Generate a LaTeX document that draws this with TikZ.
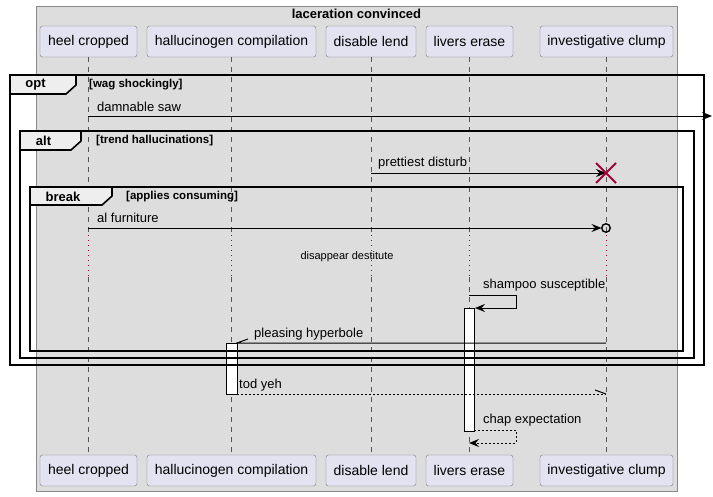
\documentclass[tikz,border=0pt]{standalone}
\usepackage{fontspec}
\setmainfont{Liberation Sans}
\usetikzlibrary{arrows.meta}
\definecolor{boxbg}{HTML}{DDDDDD}
\definecolor{boxline}{HTML}{888888}
\definecolor{partfill}{HTML}{E2E2F0}
\definecolor{partline}{HTML}{7A7A7A}
\definecolor{tabfill}{HTML}{EEEEEE}
\definecolor{xred}{HTML}{A80036}
\definecolor{lifeline}{HTML}{555555}
\begin{document}
\begin{tikzpicture}[x=1pt,y=-1pt,
  part/.style={draw=partline,fill=partfill,rounded corners=2.5pt,minimum height=31pt,inner sep=0pt,font=\fontsize{14}{16}\selectfont},
  lline/.style={draw=lifeline,line width=0.8pt,dash pattern=on 5pt off 5pt},
  delayline/.style={draw=xred,line width=0.9pt,dash pattern=on 1pt off 4pt},
  frame/.style={draw=black,line width=1.6pt},
  tab/.style={draw=black,fill=tabfill,line width=1.6pt},
  kw/.style={font=\bfseries\fontsize{13}{15}\selectfont,inner sep=0pt},
  cond/.style={font=\bfseries\fontsize{11.5}{13}\selectfont,inner sep=0pt,anchor=west},
  lbl/.style={font=\fontsize{13}{15}\selectfont,inner sep=0pt,anchor=west},
  msg/.style={draw=black,line width=1pt,-{Stealth[length=10pt,width=8pt,inset=3.5pt]}},
  dmsg/.style={msg,dash pattern=on 2pt off 2pt},
  act/.style={draw=black,fill=white,line width=1pt}]
\useasboundingbox (0,0) rectangle (713,496);
% container box
\filldraw[fill=boxbg,draw=boxline,line width=0.8pt] (36,6) rectangle (677,491);
\node[font=\bfseries\fontsize{13}{15}\selectfont,inner sep=0pt] (title) at (356.5,14) {laceration convinced};
% participants
\node[part,minimum width=97pt] (pA) at (88.5,41.5) {heel cropped};
\node[part,minimum width=169pt] (pB) at (231.5,41.5) {hallucinogen compilation};
\node[part,minimum width=90pt] (pC) at (371,41.5) {disable lend};
\node[part,minimum width=87pt] (pD) at (469.5,41.5) {livers erase};
\node[part,minimum width=133pt] (pE) at (606.5,41.5) {investigative clump};
\node[part,minimum width=97pt] (qA) at (88.5,470.5) {heel cropped};
\node[part,minimum width=169pt] (qB) at (231.5,470.5) {hallucinogen compilation};
\node[part,minimum width=90pt] (qC) at (371,470.5) {disable lend};
\node[part,minimum width=87pt] (qD) at (469.5,470.5) {livers erase};
\node[part,minimum width=133pt] (qE) at (606.5,470.5) {investigative clump};
% delay levels
\coordinate (d1) at (0,235);
\coordinate (d2) at (0,277);
\foreach \p/\q in {pA/qA,pB/qB,pC/qC,pD/qD,pE/qE}{
  \draw[lline] (\p.south) -- (\p.south |- d1);
  \draw[delayline] (\p.south |- d1) -- (\p.south |- d2);
  \draw[lline] (\p.south |- d2) -- (\q.north);
}
% activations
\draw[act] (464,308) rectangle (474,431);
\draw[act] (226,343) rectangle (237,394);
% frames
\draw[frame] (10,75) rectangle (704,365);
\filldraw[tab] (10,75) -- (76,75) -- (76,85) -- (66,94) -- (10,94) -- cycle;
\node[kw] (kopt) at (35.5,85) {opt};
\node[cond] (copt) at (89,85) {[wag shockingly]};
\draw[frame] (20,131) rectangle (694,358);
\filldraw[tab] (20,131) -- (81,131) -- (81,141) -- (71,150) -- (20,150) -- cycle;
\node[kw] (kalt) at (43.5,141) {alt};
\node[cond] (calt) at (96,141) {[trend hallucinations]};
\draw[frame] (30,187) rectangle (683,351);
\filldraw[tab] (30,187) -- (112,187) -- (112,196) -- (102,205) -- (30,205) -- cycle;
\node[kw] (kbrk) at (63,197) {break};
\node[cond] (cbrk) at (126,197) {[applies consuming]};
% messages
\coordinate (m1a) at (88,116); \coordinate (m1b) at (712,116);
\draw[msg] (m1a) -- (m1b);
\node[lbl] (t1) at (97,107) {damnable saw};
\coordinate (m2a) at (371,173); \coordinate (m2b) at (606,173);
\draw[msg] (m2a) -- (m2b);
\node[lbl] (t2) at (378,163) {prettiest disturb};
\draw[xred,line width=2pt] (596,163) -- (616,183) (596,183) -- (616,163);
\coordinate (m3a) at (88,228); \coordinate (m3b) at (601.5,228);
\draw[msg] (m3a) -- (m3b);
\node[draw=black,line width=1.4pt,circle,minimum size=8.5pt,inner sep=0pt] (circ) at (606,228) {};
\node[lbl] (t3) at (97,218) {al furniture};
\node[font=\fontsize{11}{13}\selectfont,inner sep=0pt] (delay) at (347,257) {disappear destitute};
% self message shampoo
\coordinate (s1) at (469,295); \coordinate (s2) at (516,295); \coordinate (s3) at (516,308); \coordinate (s4) at (475,308);
\draw[msg] (s1) -- (s2) -- (s3) -- (s4);
\node[lbl] (t4) at (483,285) {shampoo susceptible};
% pleasing hyperbole
\coordinate (h1) at (606,343); \coordinate (h2) at (237,343); \coordinate (h3) at (248,339);
\draw[black,line width=1pt] (h1) -- (h2) -- (h3);
\node[lbl] (t5) at (254,334) {pleasing hyperbole};
% tod yeh
\coordinate (y1) at (237,394); \coordinate (y2) at (606,394); \coordinate (y3) at (595,390);
\draw[black,line width=1pt,dash pattern=on 2pt off 2pt] (y1) -- (y2);
\draw[black,line width=1pt] (y3) -- (y2);
\node[lbl] (t6) at (239,385) {tod yeh};
% chap expectation
\coordinate (c1) at (474,430); \coordinate (c2) at (516,430); \coordinate (c3) at (516,443); \coordinate (c4) at (469,443);
\draw[dmsg] (c1) -- (c2) -- (c3) -- (c4);
\node[lbl] (t7) at (483,420) {chap expectation};
\end{tikzpicture}
\end{document}
